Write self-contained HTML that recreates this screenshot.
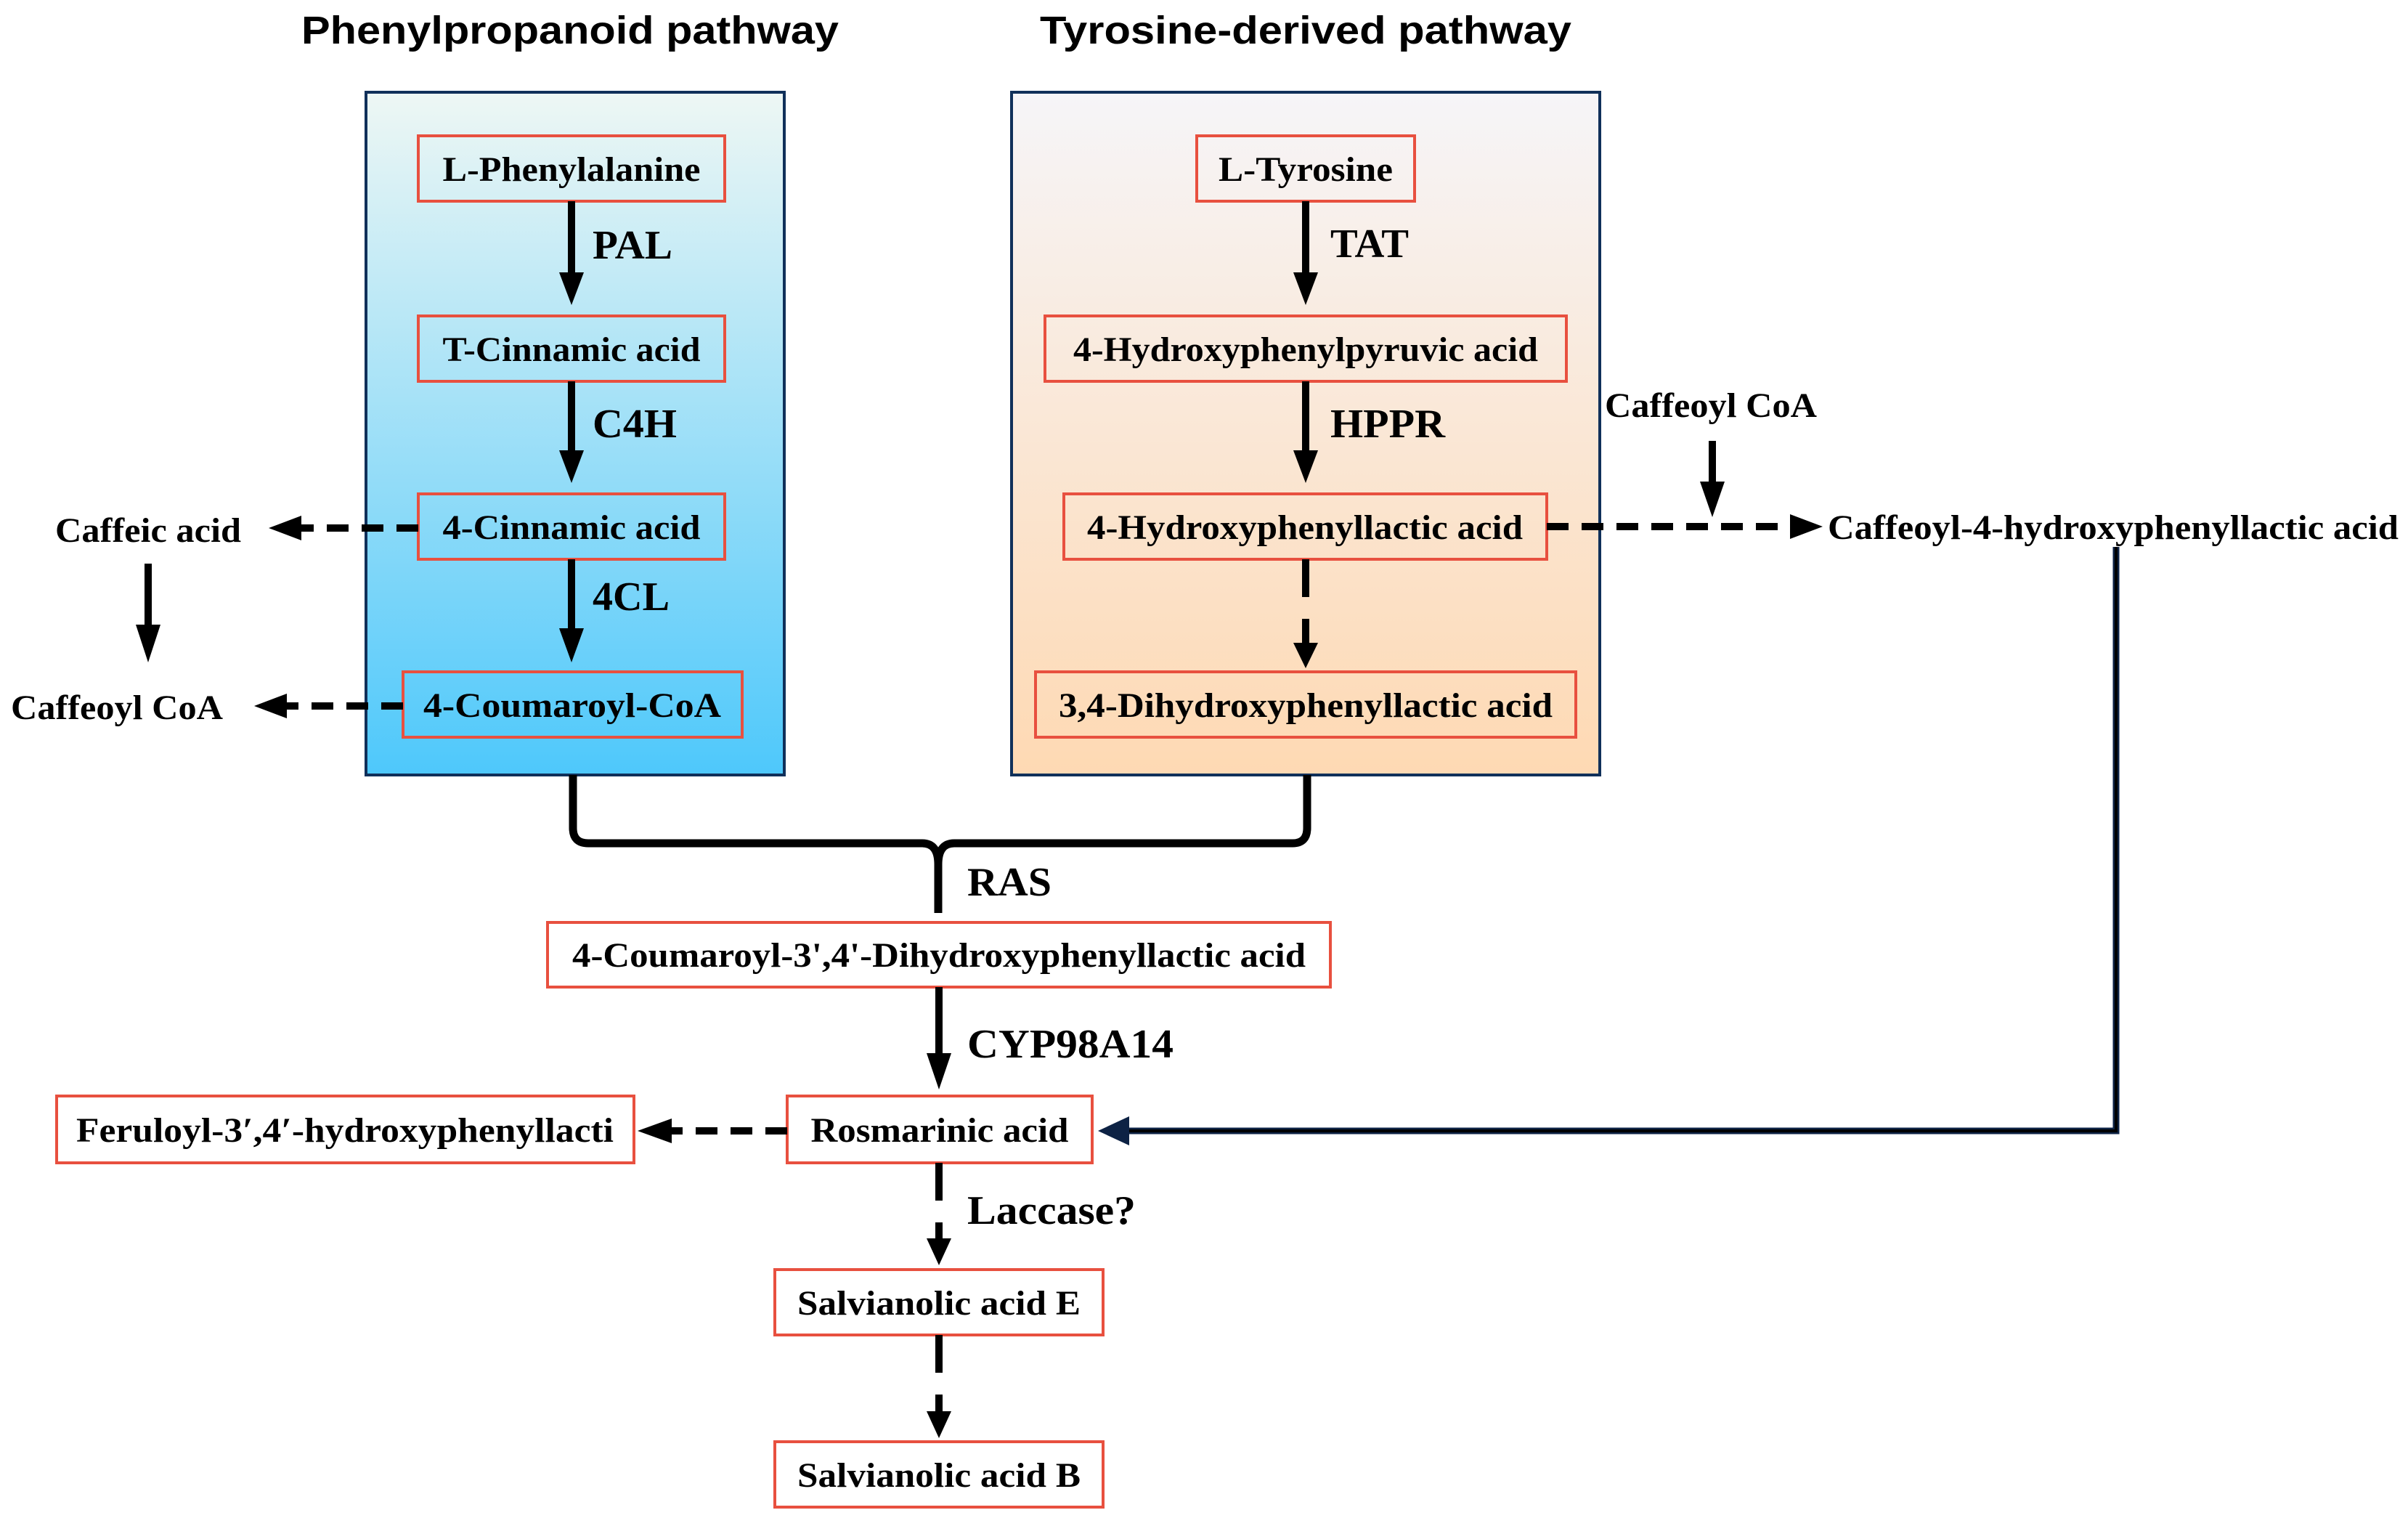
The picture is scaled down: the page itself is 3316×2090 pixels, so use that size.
<!DOCTYPE html>
<html><head><meta charset="utf-8"><style>html,body{margin:0;padding:0;background:#fff}svg{display:block}</style></head>
<body>
<svg width="3316" height="2090" viewBox="0 0 3316 2090" xmlns="http://www.w3.org/2000/svg">
<defs>
<linearGradient id="gb" x1="0" y1="0" x2="0" y2="1"><stop offset="0" stop-color="#eef7f4"/><stop offset="1" stop-color="#4ec8fb"/></linearGradient>
<linearGradient id="go" x1="0" y1="0" x2="0" y2="1"><stop offset="0" stop-color="#f6f5f8"/><stop offset="1" stop-color="#fed9b3"/></linearGradient>
</defs>
<g font-family="Liberation Sans, sans-serif" font-weight="bold" font-size="54" text-anchor="middle">
<text x="785" y="60" textLength="740" lengthAdjust="spacingAndGlyphs">Phenylpropanoid pathway</text>
<text x="1798" y="60" textLength="732" lengthAdjust="spacingAndGlyphs">Tyrosine-derived pathway</text>
</g>
<rect x="504" y="127" width="576" height="940" fill="url(#gb)" stroke="#10305a" stroke-width="4"/>
<rect x="1393" y="127" width="810" height="940" fill="url(#go)" stroke="#10305a" stroke-width="4"/>
<g fill="none" stroke="#e8503f" stroke-width="4">
<rect x="576" y="187" width="422" height="90"/>
<rect x="576" y="435" width="422" height="90"/>
<rect x="576" y="680" width="422" height="90"/>
<rect x="555" y="925" width="467" height="90"/>
<rect x="1648" y="187" width="300" height="90"/>
<rect x="1439" y="435" width="718" height="90"/>
<rect x="1465" y="680" width="665" height="90"/>
<rect x="1426" y="925" width="744" height="90"/>
<rect x="754" y="1270" width="1078" height="89"/>
<rect x="1084" y="1509" width="420" height="92"/>
<rect x="78" y="1509" width="795" height="92"/>
<rect x="1067" y="1748" width="452" height="90"/>
<rect x="1067" y="1985" width="452" height="90"/>
</g>
<g font-family="Liberation Serif, serif" font-weight="bold" font-size="48" text-anchor="middle" fill="#000">
<text x="787" y="249" textLength="355" lengthAdjust="spacingAndGlyphs">L-Phenylalanine</text>
<text x="787" y="497" textLength="355" lengthAdjust="spacingAndGlyphs">T-Cinnamic acid</text>
<text x="787" y="742" textLength="355" lengthAdjust="spacingAndGlyphs">4-Cinnamic acid</text>
<text x="788" y="987" textLength="410" lengthAdjust="spacingAndGlyphs">4-Coumaroyl-CoA</text>
<text x="1798" y="249" textLength="240" lengthAdjust="spacingAndGlyphs">L-Tyrosine</text>
<text x="1798" y="497" textLength="640" lengthAdjust="spacingAndGlyphs">4-Hydroxyphenylpyruvic acid</text>
<text x="1797" y="742" textLength="600" lengthAdjust="spacingAndGlyphs">4-Hydroxyphenyllactic acid</text>
<text x="1798" y="987" textLength="680" lengthAdjust="spacingAndGlyphs">3,4-Dihydroxyphenyllactic acid</text>
<text x="1293" y="1331" textLength="1010" lengthAdjust="spacingAndGlyphs">4-Coumaroyl-3',4'-Dihydroxyphenyllactic acid</text>
<text x="1294" y="1572" textLength="355" lengthAdjust="spacingAndGlyphs">Rosmarinic acid</text>
<text x="475" y="1572" textLength="740" lengthAdjust="spacingAndGlyphs">Feruloyl-3′,4′-hydroxyphenyllacti</text>
<text x="1293" y="1810" textLength="390" lengthAdjust="spacingAndGlyphs">Salvianolic acid E</text>
<text x="1293" y="2047" textLength="390" lengthAdjust="spacingAndGlyphs">Salvianolic acid B</text>
<text x="204" y="746" textLength="256" lengthAdjust="spacingAndGlyphs">Caffeic acid</text>
<text x="161" y="990" textLength="292" lengthAdjust="spacingAndGlyphs">Caffeoyl CoA</text>
<text x="2356" y="574" textLength="292" lengthAdjust="spacingAndGlyphs">Caffeoyl CoA</text>
<text x="2910" y="742" textLength="786" lengthAdjust="spacingAndGlyphs">Caffeoyl-4-hydroxyphenyllactic acid</text>
</g>
<g font-family="Liberation Serif, serif" font-weight="bold" font-size="56" fill="#000">
<text x="816" y="356" textLength="110" lengthAdjust="spacingAndGlyphs">PAL</text>
<text x="816" y="602" textLength="116" lengthAdjust="spacingAndGlyphs">C4H</text>
<text x="816" y="840" textLength="106" lengthAdjust="spacingAndGlyphs">4CL</text>
<text x="1832" y="354" textLength="108" lengthAdjust="spacingAndGlyphs">TAT</text>
<text x="1832" y="602" textLength="158" lengthAdjust="spacingAndGlyphs">HPPR</text>
<text x="1332" y="1233" textLength="116" lengthAdjust="spacingAndGlyphs">RAS</text>
<text x="1332" y="1456" textLength="284" lengthAdjust="spacingAndGlyphs">CYP98A14</text>
<text x="1332" y="1685" textLength="232" lengthAdjust="spacingAndGlyphs">Laccase?</text>
</g>
<g stroke="#000" stroke-width="10" fill="none">
<line x1="787" y1="277" x2="787" y2="380"/>
<line x1="787" y1="525" x2="787" y2="625"/>
<line x1="787" y1="770" x2="787" y2="870"/>
<line x1="1798" y1="277" x2="1798" y2="380"/>
<line x1="1798" y1="525" x2="1798" y2="625"/>
<line x1="1293" y1="1359" x2="1293" y2="1455"/>
<line x1="204" y1="776" x2="204" y2="865"/>
<line x1="2358" y1="607" x2="2358" y2="668"/>
<g stroke-dasharray="30,18">
<line x1="576" y1="727" x2="410" y2="727"/>
<line x1="555" y1="972" x2="390" y2="972"/>
<line x1="2130" y1="725" x2="2470" y2="725"/>
<line x1="1084" y1="1557" x2="920" y2="1557"/>
</g>
<g stroke-dasharray="52,30">
<line x1="1798" y1="770" x2="1798" y2="890"/>
<line x1="1293" y1="1601" x2="1293" y2="1710"/>
<line x1="1293" y1="1838" x2="1293" y2="1948"/>
</g>
<path d="M789 1067 L789 1140 Q789 1161 810 1161 L1270 1161 Q1292 1161 1292 1190 L1292 1257 M1292 1190 Q1292 1161 1314 1161 L1780 1161 Q1800 1161 1800 1140 L1800 1067" stroke-width="11"/>
</g>
<path d="M2914 753 L2914 1557 L1550 1557" stroke="#0d2244" stroke-width="9" fill="none"/>
<path d="M2914 753 L2914 1557 L1550 1557" stroke="#000" stroke-width="4" fill="none"/>
<g fill="#000">
<polygon points="770,375 804,375 787,420"/>
<polygon points="770,620 804,620 787,665"/>
<polygon points="770,865 804,865 787,912"/>
<polygon points="1781,375 1815,375 1798,420"/>
<polygon points="1781,620 1815,620 1798,665"/>
<polygon points="1781,885 1815,885 1798,920"/>
<polygon points="1276,1450 1310,1450 1293,1500"/>
<polygon points="1276,1705 1310,1705 1293,1742"/>
<polygon points="1276,1943 1310,1943 1293,1980"/>
<polygon points="187,860 221,860 204,912"/>
<polygon points="2341,663 2375,663 2358,712"/>
<polygon points="415,710 415,744 370,727"/>
<polygon points="395,955 395,989 350,972"/>
<polygon points="2465,708 2465,742 2510,725"/>
<polygon points="925,1540 925,1574 878,1557"/>
<polygon points="1555,1537 1555,1577 1512,1557" fill="#0d2244"/>
</g>
</svg>
</body></html>
